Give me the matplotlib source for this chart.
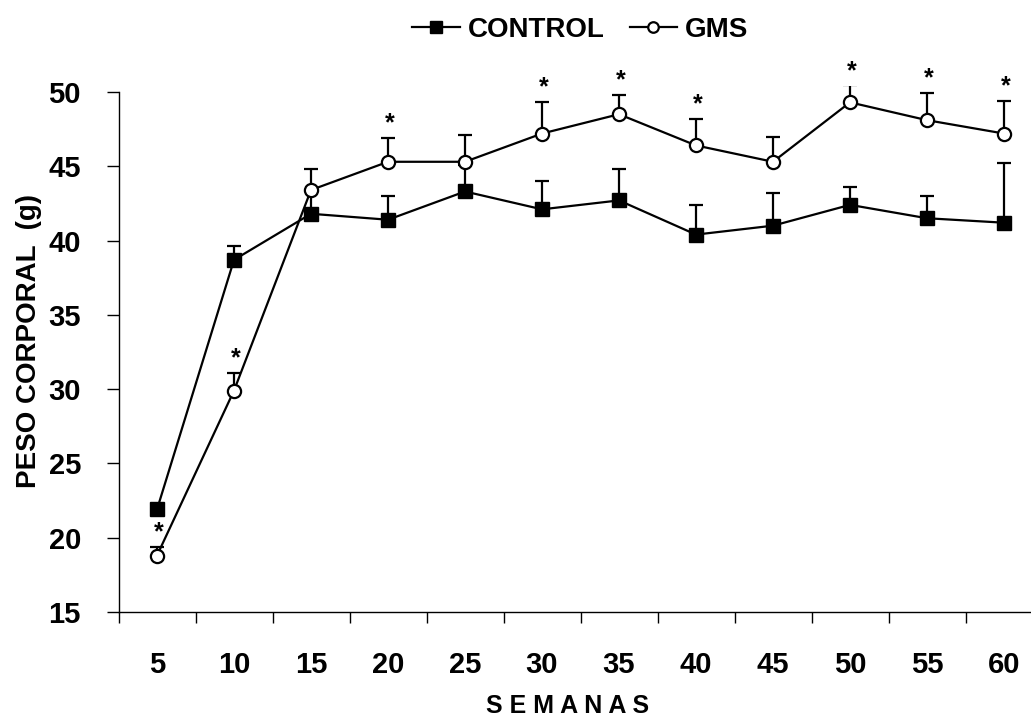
import matplotlib
matplotlib.use("Agg")
import matplotlib.pyplot as plt
from matplotlib.ticker import FixedLocator, NullFormatter, FixedFormatter
import numpy as np

plt.rcParams['font.family'] = ['Liberation Sans', 'DejaVu Sans']

# Weeks of follow-up
semanas = ["5", "10", "15", "20", "25", "30", "35", "40", "45", "50", "55", "60"]

# Mean body weight (g) and upper error (SEM) per group
control = [21.9, 38.7, 41.8, 41.4, 43.3, 42.1, 42.7, 40.4, 41.0, 42.4, 41.5, 41.2]
control_err = [0.4, 0.9, 1.5, 1.6, 1.8, 1.9, 2.1, 2.0, 2.2, 1.2, 1.5, 4.0]
gms = [18.8, 29.9, 43.4, 45.3, 45.3, 47.2, 48.5, 46.4, 45.3, 49.3, 48.1, 47.2]
gms_err = [0.6, 1.2, 1.4, 1.6, 1.8, 2.1, 1.3, 1.8, 1.7, 1.2, 1.8, 2.2]

# Significant differences vs CONTROL (*)
significativo = [True, True, False, True, False, True, True, True, False, True, True, True]

W, H = 1031, 726
fig = plt.figure(figsize=(W / 100, H / 100), dpi=100)
ax = fig.add_axes([118.5 / W, (H - 612) / H, 924 / W, 526 / H])

x = np.arange(len(semanas))

# upward-only error bars, drawn beneath the lines and markers
ax.errorbar(x, control, yerr=[np.zeros(len(x)), control_err], fmt='none',
            ecolor='black', elinewidth=1.6, capsize=5, capthick=1.6, zorder=1)
ax.errorbar(x, gms, yerr=[np.zeros(len(x)), gms_err], fmt='none',
            ecolor='black', elinewidth=1.6, capsize=5, capthick=1.6, zorder=1)

ax.plot(x, control, color='black', lw=1.6, marker='s', markersize=10,
        markerfacecolor='black', markeredgecolor='black', label='CONTROL', zorder=3)
ax.plot(x, gms, color='black', lw=1.6, marker='o', markersize=9.5,
        markerfacecolor='white', markeredgecolor='black', markeredgewidth=1.6,
        label='GMS', zorder=4)

for xi, g, e, s in zip(x, gms, gms_err, significativo):
    if s:
        ax.annotate('*', xy=(xi, min(g + e, 50.4)), xytext=(1, 2),
                    textcoords='offset points', ha='center', va='bottom',
                    fontsize=18, fontweight='bold', annotation_clip=False)

ax.set_xlim(-0.5, len(semanas) - 0.5)
ax.set_ylim(15, 50.4)

# category axis: ticks on boundaries, labels centred
ax.xaxis.set_major_locator(FixedLocator(np.arange(-0.5, len(semanas), 1.0)))
ax.xaxis.set_major_formatter(NullFormatter())
ax.xaxis.set_minor_locator(FixedLocator(x))
ax.xaxis.set_minor_formatter(FixedFormatter(semanas))
ax.tick_params(axis='x', which='major', direction='out', length=8, width=1, pad=0)
ax.tick_params(axis='x', which='minor', length=0, pad=28, labelsize=21)
for lbl in ax.get_xticklabels(minor=True):
    lbl.set_fontweight('bold')

ax.set_yticks(np.arange(15, 51, 5))
ax.tick_params(axis='y', direction='out', length=9, width=1, labelsize=21, pad=18)
for lbl in ax.get_yticklabels():
    lbl.set_fontweight('bold')

ax.spines['top'].set_visible(False)
ax.spines['right'].set_visible(False)
ax.spines['left'].set_bounds(15, 50)
ax.spines['left'].set_linewidth(1)
ax.spines['bottom'].set_linewidth(1)

ax.set_ylabel('PESO CORPORAL  (g)', fontsize=20, fontweight='bold')
ax.yaxis.set_label_coords(-0.083, 0.515)
ax.set_xlabel('S E M A N A S', fontsize=18, fontweight='bold')
ax.xaxis.set_label_coords(0.486, -0.155)

leg = ax.legend(loc='lower center', bbox_to_anchor=(0.5, 1.035), ncol=2,
                frameon=False, handlelength=1.7, columnspacing=0.9,
                handletextpad=0.3, markerscale=0.8,
                prop={'size': 20, 'weight': 'bold'})

fig.savefig('out.png', dpi=100)
